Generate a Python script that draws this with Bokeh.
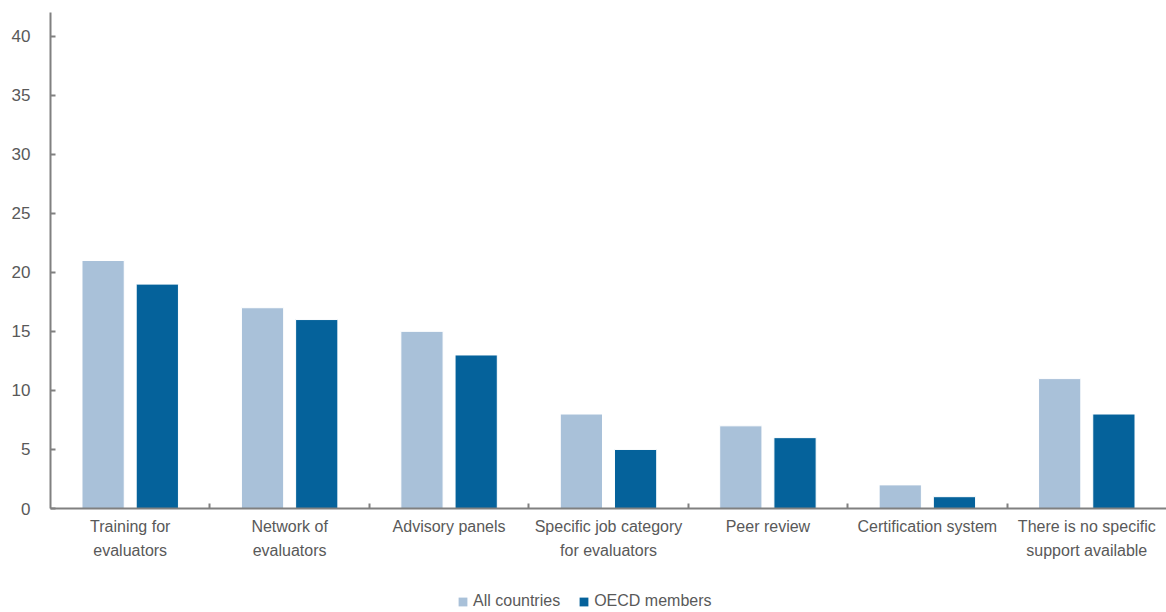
import numpy as np
from bokeh.plotting import figure
from bokeh.layouts import column
from bokeh.models import (ColumnDataSource, FixedTicker, Range1d, Legend,
                          LegendItem)
from bokeh.transform import dodge
from bokeh.embed import file_html
from bokeh.resources import INLINE

# Support mechanisms available for evaluators (number of countries)
categories = [
    "Training for\nevaluators",
    "Network of\nevaluators",
    "Advisory panels",
    "Specific job category\nfor evaluators",
    "Peer review",
    "Certification system",
    "There is no specific\nsupport available",
]
all_countries = [21, 17, 15, 8, 7, 2, 11]
oecd_members = [19, 16, 13, 5, 6, 1, 8]
y_ticks = [0, 5, 10, 15, 20, 25, 30, 35, 40]
series_names = ["All countries", "OECD members"]

LIGHT = "#a9c1d9"
DARK = "#05629b"
TEXT = "#595959"
AXIS = "#808080"
FONT = "Liberation Sans"

n = len(categories)
centers = list(np.arange(n) + 0.5)
source = ColumnDataSource(dict(pos=centers, all=all_countries, oecd=oecd_members))

p = figure(frame_width=1116, frame_height=496,
           output_backend="svg", toolbar_location=None,
           x_range=Range1d(0, n), y_range=Range1d(0, 42),
           min_border_left=50, min_border_right=0, min_border_top=12,
           min_border_bottom=72)
p.outline_line_color = None
p.grid.grid_line_color = None

p.vbar(x=dodge("pos", -0.17, range=p.x_range), top="all", width=0.265,
       source=source, fill_color=LIGHT, line_color="white", line_width=1)
p.vbar(x=dodge("pos", 0.17, range=p.x_range), top="oecd", width=0.265,
       source=source, fill_color=DARK, line_color="white", line_width=1)

# x axis: labels at category centres, small ticks at the boundaries
xa = p.xaxis[0]
xa.ticker = FixedTicker(ticks=centers, minor_ticks=list(range(1, n)))
xa.major_label_overrides = {c: lab for c, lab in zip(centers, categories)}
xa.major_tick_in = 0
xa.major_tick_out = 0
xa.minor_tick_in = 5
xa.minor_tick_out = 0
xa.minor_tick_line_color = AXIS
xa.minor_tick_line_width = 2
xa.axis_line_color = AXIS
xa.axis_line_width = 2
xa.major_label_standoff = 9
xa.major_label_text_font = FONT
xa.major_label_text_font_size = "16px"
xa.major_label_text_line_height = 1.45
xa.major_label_text_color = TEXT

ya = p.yaxis[0]
ya.ticker = FixedTicker(ticks=y_ticks)
ya.minor_tick_line_color = None
ya.major_tick_in = 5
ya.major_tick_out = 0
ya.major_tick_line_color = AXIS
ya.major_tick_line_width = 2
ya.axis_line_color = AXIS
ya.axis_line_width = 2
ya.major_label_standoff = 20
ya.major_label_text_font = FONT
ya.major_label_text_font_size = "17px"
ya.major_label_text_color = TEXT

# legend strip underneath the chart; each swatch renderer holds a
# zero-height bar so that the legend has a glyph to draw
leg = figure(width=1166, height=32, output_backend="svg", toolbar_location=None,
             x_range=Range1d(0, 1), y_range=Range1d(0, 1),
             x_axis_location=None, y_axis_location=None, min_border=0)
leg.outline_line_color = None
leg.grid.grid_line_color = None
sw_all = leg.vbar(x=[0.5], top=[0], width=0.01, fill_color=LIGHT,
                  line_color=None)
sw_oecd = leg.vbar(x=[0.5], top=[0], width=0.01, fill_color=DARK,
                   line_color=None)

legend = Legend(items=[LegendItem(label=series_names[0], renderers=[sw_all]),
                       LegendItem(label=series_names[1], renderers=[sw_oecd])],
                orientation="horizontal", location=(407, 2),
                glyph_width=11, glyph_height=11, label_standoff=5, spacing=18,
                label_height=16,
                label_text_font=FONT, label_text_font_size="16px",
                label_text_color=TEXT, border_line_color=None,
                background_fill_alpha=0, padding=0, margin=0)
leg.add_layout(legend, "center")

open("out.html", "w").write(file_html(column(p, leg, spacing=0), INLINE))
